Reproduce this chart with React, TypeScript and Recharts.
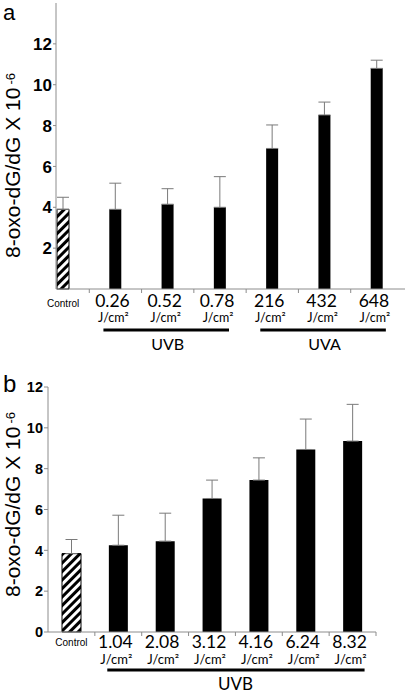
import { BarChart, Bar, XAxis, YAxis, ErrorBar, Cell } from 'recharts';

// panel a: UVB vs UVA doses
const categoriesA = ['Control', '0.26', '0.52', '0.78', '216', '432', '648'];
const meansA = [3.9, 3.9, 4.15, 4.0, 6.88, 8.52, 10.8];
const errorsA = [0.59, 1.28, 0.76, 1.5, 1.15, 0.63, 0.4];
const ticksA = [2, 4, 6, 8, 10, 12];
const groupsA = [
  { label: 'UVB', from: 1, to: 3 },
  { label: 'UVA', from: 4, to: 6 },
];

// panel b: UVB dose series
const categoriesB = ['Control', '1.04', '2.08', '3.12', '4.16', '6.24', '8.32'];
const meansB = [3.84, 4.25, 4.45, 6.54, 7.44, 8.94, 9.35];
const errorsB = [0.69, 1.47, 1.37, 0.9, 1.09, 1.49, 1.8];
const ticksB = [0, 2, 4, 6, 8, 10, 12];
const groupsB = [{ label: 'UVB', from: 1, to: 6 }];

const unitLabel = 'J/cm²';
const yTitle = '8-oxo-dG/dG X 10';
const yTitleExp = '-6';

const axisGray = '#8c8c8c';
const humanist = 'Lato, "Open Sans", sans-serif';
const helvetica = '"Liberation Sans", Arial, sans-serif';

const toRows = (cats: string[], means: number[], errs: number[]) =>
  cats.map((name, i) => ({ name, mean: means[i], err: [0, errs[i]] }));

const rowsA = toRows(categoriesA, meansA, errorsA);
const rowsB = toRows(categoriesB, meansB, errorsB);

type TickCfg = {
  band: number;
  groups: { label: string; from: number; to: number }[];
  count: number;
  closeEnd: boolean;
  controlDy: number;
  numberDy: number;
  unitDy: number;
  lineDy: number;
  groupDy: number;
  numberSize: number;
  unitSize: number;
  groupSize: number;
  trimL: number;
  trimR: number;
};

const DoseTick = (props: any) => {
  const { x, y, index, payload, cfg } = props;
  const c: TickCfg = cfg;
  const half = c.band / 2;
  const group = c.groups.find((g) => g.from === index);
  const labelGroup = c.groups.find((g) => Math.floor((g.from + g.to) / 2) === index);
  return (
    <g>
      {index > 0 && (
        <line x1={x - half} x2={x - half} y1={y} y2={y + 4} stroke={axisGray} strokeWidth={1} />
      )}
      {c.closeEnd && index === c.count - 1 && (
        <line x1={x + half} x2={x + half} y1={y} y2={y + 4} stroke={axisGray} strokeWidth={1} />
      )}
      {index === 0 ? (
        <text x={x} y={y + c.controlDy} textAnchor="middle" fontSize={10} fontFamily={helvetica} fill="#000">
          {payload.value}
        </text>
      ) : (
        <>
          <text x={x - 3} y={y + c.numberDy} textAnchor="middle" fontSize={c.numberSize} fontFamily={humanist} fill="#000">
            {payload.value}
          </text>
          <text x={x - 2} y={y + c.unitDy} textAnchor="middle" fontSize={c.unitSize} fontFamily={humanist} fill="#000">
            {unitLabel}
          </text>
        </>
      )}
      {group && (
        <line
          x1={x - c.trimL}
          x2={x + (group.to - group.from) * c.band + c.trimR}
          y1={y + c.lineDy}
          y2={y + c.lineDy}
          stroke="#000"
          strokeWidth={3}
        />
      )}
      {labelGroup && (
        <text
          x={x + ((labelGroup.from + labelGroup.to) / 2 - index) * c.band}
          y={y + c.groupDy}
          textAnchor="middle"
          fontSize={c.groupSize}
          fontFamily={humanist}
          fill="#000"
        >
          {labelGroup.label}
        </text>
      )}
    </g>
  );
};

const ValueTick = (props: any) => {
  const { x, y, payload, size } = props;
  return (
    <text
      x={x}
      y={y}
      dy="0.36em"
      textAnchor="end"
      fill="#000"
      style={{ fontFamily: helvetica, fontSize: size, fontWeight: 700 }}
    >
      {payload.value}
    </text>
  );
};

const AxisTitle = ({ panel, baseX, startY, panelY, panelSize }: any) => (
  <g>
    <text x={3} y={panelY} fontSize={panelSize} fontFamily={helvetica} fill="#000">
      {panel}
    </text>
    <text
      x={baseX}
      y={startY}
      transform={`rotate(-90, ${baseX}, ${startY})`}
      fontSize={21}
      fontFamily={helvetica}
      fill="#000"
    >
      {yTitle}
      <tspan fontSize={13} dx={3} dy={-5}>
        {yTitleExp}
      </tspan>
    </text>
  </g>
);

const cfgA: TickCfg = {
  band: 366 / 7,
  groups: groupsA,
  count: categoriesA.length,
  closeEnd: false,
  controlDy: 18,
  numberDy: 18,
  unitDy: 33,
  lineDy: 41,
  groupDy: 61,
  numberSize: 17.5,
  unitSize: 12.5,
  groupSize: 16,
  trimL: 12,
  trimR: 9,
};

const cfgB: TickCfg = {
  band: 328 / 7,
  groups: groupsB,
  count: categoriesB.length,
  closeEnd: true,
  controlDy: 14,
  numberDy: 16,
  unitDy: 32,
  lineDy: 38,
  groupDy: 58,
  numberSize: 17.5,
  unitSize: 13,
  groupSize: 17,
  trimL: 11,
  trimR: 12,
};

const HatchDefs = ({ id }: { id: string }) => (
  <defs>
    <pattern id={id} width={6} height={6} patternUnits="userSpaceOnUse" patternTransform="rotate(45)">
      <rect x={0} y={0} width={6} height={6} fill="#fff" />
      <rect x={0} y={0} width={3} height={6} fill="#000" />
    </pattern>
  </defs>
);

export default function App() {
  return (
    <div style={{ position: 'absolute', left: 0, top: 0, width: 405, height: 693, background: '#fff' }}>
      <div style={{ position: 'absolute', left: 0, top: 0 }}>
        <BarChart width={405} height={360} data={rowsA} margin={{ top: 3, right: 0, bottom: 0, left: 0 }}>
          <HatchDefs id="hatchA" />
          <XAxis
            dataKey="name"
            type="category"
            height={71}
            interval={0}
            padding={{ left: -19, right: 2 }}
            axisLine={{ stroke: axisGray }}
            tickLine={false}
            tickSize={0}
            tickMargin={0}
            tick={<DoseTick cfg={cfgA} />}
          />
          <YAxis
            width={56}
            domain={[0, 14]}
            ticks={ticksA}
            interval={0}
            axisLine={{ stroke: axisGray }}
            tickLine={{ stroke: axisGray }}
            tickSize={3}
            tickMargin={1}
            tick={<ValueTick size={17} />}
            label={<AxisTitle panel="a" baseX={20} startY={258} panelY={20} panelSize={22} />}
          />
          <Bar dataKey="mean" barSize={12} isAnimationActive={false}>
            {rowsA.map((r, i) => (
              <Cell
                key={r.name}
                fill={i === 0 ? 'url(#hatchA)' : '#000'}
                stroke="#000"
                strokeWidth={i === 0 ? 1 : 0}
              />
            ))}
            <ErrorBar dataKey="err" width={6} stroke="#7a7a7a" strokeWidth={1} direction="y" />
          </Bar>
        </BarChart>
      </div>
      <div style={{ position: 'absolute', left: 0, top: 360 }}>
        <BarChart width={405} height={333} data={rowsB} margin={{ top: 27, right: 29, bottom: 0, left: 0 }}>
          <HatchDefs id="hatchB" />
          <XAxis
            dataKey="name"
            type="category"
            height={61}
            interval={0}
            axisLine={{ stroke: axisGray }}
            tickLine={false}
            tickSize={0}
            tickMargin={0}
            tick={<DoseTick cfg={cfgB} />}
          />
          <YAxis
            width={48}
            domain={[0, 12]}
            ticks={ticksB}
            interval={0}
            axisLine={{ stroke: axisGray }}
            tickLine={{ stroke: axisGray }}
            tickSize={4}
            tickMargin={1}
            tick={<ValueTick size={14.5} />}
            label={<AxisTitle panel="b" baseX={20} startY={237} panelY={32} panelSize={24} />}
          />
          <Bar dataKey="mean" barSize={19} isAnimationActive={false}>
            {rowsB.map((r, i) => (
              <Cell
                key={r.name}
                fill={i === 0 ? 'url(#hatchB)' : '#000'}
                stroke="#000"
                strokeWidth={i === 0 ? 1 : 0}
              />
            ))}
            <ErrorBar dataKey="err" width={6} stroke="#7a7a7a" strokeWidth={1} direction="y" />
          </Bar>
        </BarChart>
      </div>
    </div>
  );
}
